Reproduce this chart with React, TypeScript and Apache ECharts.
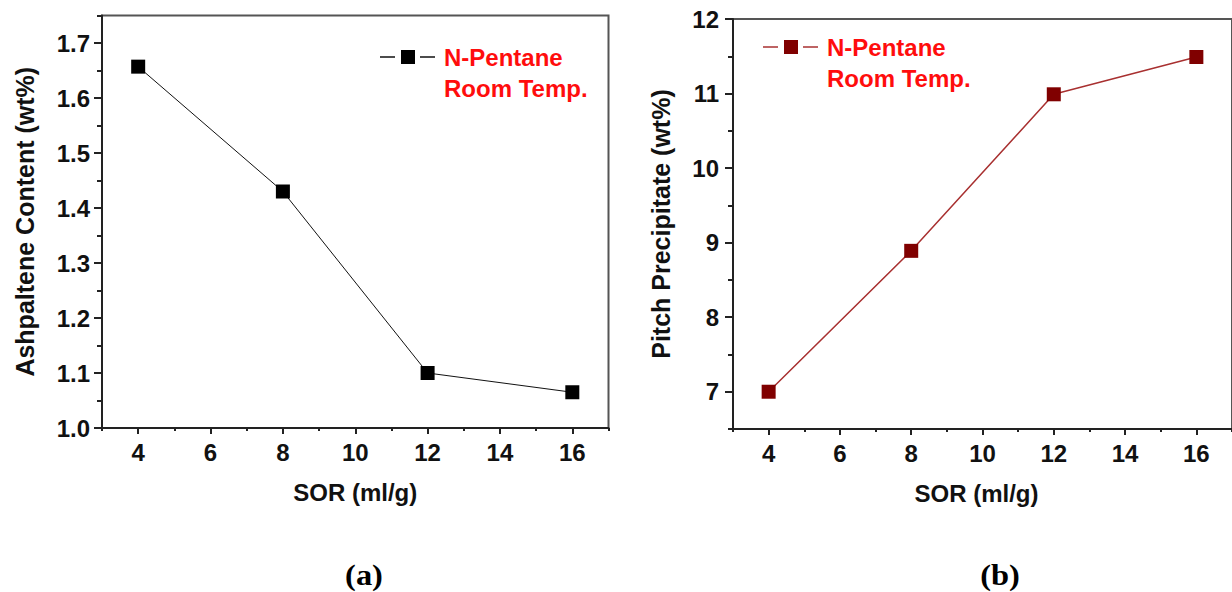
import React, { useEffect, useRef } from "react";
import * as echarts from "echarts";

// Solvent-to-oil ratio (ml/g)
const sor = [4, 8, 12, 16];
// Panel (a): asphaltene content (wt%)
const asphaltene = [1.657, 1.43, 1.1, 1.065];
// Panel (b): pitch precipitate (wt%)
const pitch = [7.0, 8.89, 10.99, 11.49];

const seriesName = "N-Pentane";
const legendText = "N-Pentane\nRoom Temp.";
const panelLabels = ["(a)", "(b)"];

// Tick positions
const xMajor = [4, 6, 8, 10, 12, 14, 16];
const xMinor = [3, 5, 7, 9, 11, 13, 15, 17];
const aMajor = [1.0, 1.1, 1.2, 1.3, 1.4, 1.5, 1.6, 1.7];
const aMinor = [1.05, 1.15, 1.25, 1.35, 1.45, 1.55, 1.65, 1.75];
const bMajor = [7, 8, 9, 10, 11, 12];
const bMinor = [6.5, 7.5, 8.5, 9.5, 10.5, 11.5];

const FONT = "'Liberation Sans', Arial, sans-serif";
const AXIS_COLOR = "#222";

const labelStyle = {
  fontFamily: FONT,
  fontWeight: "bold" as const,
  fontSize: 24,
  color: "#111",
};

function xAxes(gridIndex: number, name: string, namePadding: number[]) {
  return [
    {
      type: "value",
      gridIndex,
      position: "bottom",
      min: 3,
      max: 17,
      name,
      nameLocation: "middle",
      nameGap: 52,
      nameTextStyle: { ...labelStyle, fontSize: 24, padding: namePadding },
      axisLine: { show: true, lineStyle: { color: AXIS_COLOR, width: 2 } },
      axisTick: { show: true, customValues: xMajor, length: 6, lineStyle: { color: AXIS_COLOR, width: 2 } },
      axisLabel: { show: true, customValues: xMajor, margin: 12, ...labelStyle },
      splitLine: { show: false },
    },
    {
      type: "value",
      gridIndex,
      position: "bottom",
      min: 3,
      max: 17,
      axisLine: { show: false },
      axisTick: { show: true, customValues: xMinor, length: 3, lineStyle: { color: AXIS_COLOR, width: 2 } },
      axisLabel: { show: false },
      splitLine: { show: false },
    },
  ];
}

function yAxes(
  gridIndex: number,
  min: number,
  max: number,
  major: number[],
  minor: number[],
  name: string,
  nameGap: number,
  margin: number,
  fmt: (v: number) => string
) {
  return [
    {
      type: "value",
      gridIndex,
      position: "left",
      min,
      max,
      name,
      nameLocation: "middle",
      nameGap,
      nameTextStyle: { ...labelStyle, fontSize: 25 },
      axisLine: { show: true, lineStyle: { color: AXIS_COLOR, width: 2 } },
      axisTick: { show: true, customValues: major, length: 8, lineStyle: { color: AXIS_COLOR, width: 2 } },
      axisLabel: { show: true, customValues: major, margin, formatter: fmt, ...labelStyle },
      splitLine: { show: false },
    },
    {
      type: "value",
      gridIndex,
      position: "left",
      min,
      max,
      axisLine: { show: false },
      axisTick: { show: true, customValues: minor, length: 5, lineStyle: { color: AXIS_COLOR, width: 2 } },
      axisLabel: { show: false },
      splitLine: { show: false },
    },
  ];
}

function legendGroup(x: number, y: number, color: string, lineColor: string) {
  return {
    type: "group",
    x,
    y,
    children: [
      { type: "line", shape: { x1: 0, y1: 0, x2: 15, y2: 0 }, style: { stroke: lineColor, lineWidth: 1.5 } },
      { type: "rect", shape: { x: 21, y: -7, width: 14, height: 14 }, style: { fill: color } },
      { type: "line", shape: { x1: 40, y1: 0, x2: 55, y2: 0 }, style: { stroke: lineColor, lineWidth: 1.5 } },
      {
        type: "text",
        x: 64,
        y: -15,
        style: {
          text: legendText,
          fill: "#ff0d0d",
          font: `bold 24px ${FONT}`,
          lineHeight: 31,
          textVerticalAlign: "top",
        },
      },
    ],
  };
}

function panelLabel(text: string, x: number) {
  return {
    type: "text",
    x,
    y: 576,
    scaleX: 1.12,
    style: {
      text,
      font: "bold 29px 'Liberation Serif', 'Times New Roman', serif",
      fill: "#000",
      textAlign: "center",
      textVerticalAlign: "middle",
    },
  };
}

export default function App() {
  const ref = useRef<HTMLDivElement>(null);

  useEffect(() => {
    if (!ref.current) return;
    const chart = echarts.init(ref.current, undefined, { renderer: "svg" });

    const option = {
      animation: false,
      backgroundColor: "#ffffff",
      grid: [
        {
          left: 102,
          top: 15.5,
          width: 506.5,
          height: 412.5,
          show: true,
          borderColor: "#555",
          borderWidth: 2,
          backgroundColor: "transparent",
        },
        {
          left: 733,
          top: 19,
          width: 509.6,
          height: 410,
          show: true,
          borderColor: "#555",
          borderWidth: 2,
          backgroundColor: "transparent",
        },
      ],
      xAxis: [...xAxes(0, "SOR (ml/g)", [0, 0, 0, 0]), ...xAxes(1, "SOR (ml/g)", [0, 12, 0, 0])],
      yAxis: [
        ...yAxes(0, 1.0, 1.75, aMajor, aMinor, "Ashpaltene Content (wt%)", 65, 12, (v: number) => v.toFixed(1)),
        ...yAxes(1, 6.5, 12, bMajor, bMinor, "Pitch Precipitate (wt%)", 60, 14, (v: number) => String(v)),
      ],
      series: [
        {
          name: seriesName,
          type: "line",
          xAxisIndex: 0,
          yAxisIndex: 0,
          data: sor.map((x, i) => [x, asphaltene[i]]),
          symbol: "rect",
          symbolSize: 14,
          lineStyle: { color: "#111", width: 1 },
          itemStyle: { color: "#000" },
        },
        {
          name: seriesName,
          type: "line",
          xAxisIndex: 2,
          yAxisIndex: 2,
          data: sor.map((x, i) => [x, pitch[i]]),
          symbol: "rect",
          symbolSize: 14,
          lineStyle: { color: "#a83030", width: 1.5 },
          itemStyle: { color: "#800000" },
        },
      ],
      graphic: [
        legendGroup(380, 57, "#000", "#111"),
        legendGroup(763, 47, "#800000", "#a83030"),
        panelLabel(panelLabels[0], 364),
        panelLabel(panelLabels[1], 1000),
      ],
    };

    chart.setOption(option as any);
    return () => chart.dispose();
  }, []);

  return (
    <div
      ref={ref}
      style={{ position: "absolute", left: 0, top: 0, width: 1232, height: 592, overflow: "hidden" }}
    />
  );
}
